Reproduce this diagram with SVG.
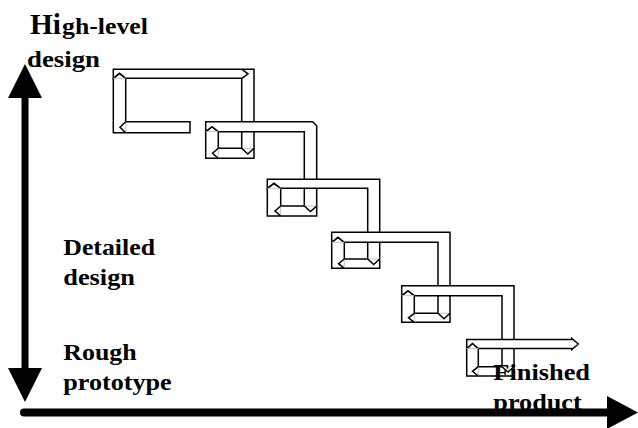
<svg xmlns="http://www.w3.org/2000/svg" width="638" height="428" viewBox="0 0 638 428">
  <style>
    .rib { fill: #fff; stroke: #000; stroke-width: 1.5; stroke-linejoin: miter; }
    .chev { fill: none; stroke: #000; stroke-width: 1.5; stroke-linejoin: miter; }
    .seam { fill: none; stroke: #c4c4c4; stroke-width: 1; }
    .lbl { font-family: "Liberation Serif", "Times New Roman", serif; font-weight: bold; font-size: 23.5px; fill: #000; }
    .axis { fill: #000; stroke: none; }
  </style>

  <rect x="0" y="0" width="638" height="428" fill="#fff"/>

  <!-- folded ribbon stepping down the page, one piece per step -->
  <g id="staircase">
    <g id="step1">
      <polygon class="rib" points="190,121.7 190,132.7 113.3,132.7 113.3,78.3 119.5,73.3 125.7,78.3 125.7,121.7"/>
    </g>
    <g id="step2">
      <polygon class="rib" points="113.3,69.3 254,69.3 254,158.3 205.7,158.3 205.7,131.7 212,126.7 218.3,131.7 218.3,148.3 241.7,148.3 241.7,78.3 125.7,78.3 119.5,73.3 113.3,78.3"/>
      <polyline class="chev" points="242,69.3 248,73.8 242,78.3"/>
    </g>
    <g id="step3">
      <polygon class="rib" points="205.7,121.7 312.7,121.7 316.7,125.7 316.7,216 267.3,216 267.3,188.3 274,183.3 280.7,188.3 280.7,206 304.3,206 304.3,131.7 218.3,131.7 212,126.7 205.7,131.7"/>
    </g>
    <g id="step4">
      <polygon class="rib" points="267.3,179.3 379.7,179.3 379.7,268.3 331.7,268.3 331.7,242.3 338,237.3 344.3,242.3 344.3,259 367.7,259 367.7,188.3 280.7,188.3 274,183.3 267.3,188.3"/>
    </g>
    <g id="step5">
      <polygon class="rib" points="331.7,232.3 450,232.3 450,322.3 401.7,322.3 401.7,295.7 408,290.7 414.3,295.7 414.3,313.3 438,313.3 438,242.3 344.3,242.3 338,237.3 331.7,242.3"/>
    </g>
    <g id="step6">
      <polygon class="rib" points="401.7,285.7 514,285.7 514,376 466.7,376 466.7,348.5 472.5,343.5 478.3,348.5 478.3,366.7 502,366.7 502,295.7 414.3,295.7 408,290.7 401.7,295.7"/>
    </g>
    <g id="step7">
      <polygon class="rib" points="466.7,339.5 571.7,339.5 571.7,338.3 578.3,344 571.7,349.7 571.7,348.5 478.3,348.5 472.5,343.5 466.7,348.5"/>
    </g>

    <!-- faint seams where ribbon pieces meet -->
    <g id="seams">
      <line class="seam" x1="113.3" y1="78.3" x2="125.7" y2="78.3"/>
      <line class="seam" x1="125.7" y1="121.7" x2="125.7" y2="132.7"/>
      <line class="seam" x1="205.7" y1="131.7" x2="218.3" y2="131.7"/>
      <line class="seam" x1="218.3" y1="148.3" x2="218.3" y2="158.3"/>
      <line class="seam" x1="241.7" y1="148.3" x2="254" y2="148.3"/>
      <line class="seam" x1="267.3" y1="188.3" x2="280.7" y2="188.3"/>
      <line class="seam" x1="280.7" y1="206" x2="280.7" y2="216"/>
      <line class="seam" x1="304.3" y1="206" x2="316.7" y2="206"/>
      <line class="seam" x1="331.7" y1="242.3" x2="344.3" y2="242.3"/>
      <line class="seam" x1="344.3" y1="259" x2="344.3" y2="268.3"/>
      <line class="seam" x1="367.7" y1="259" x2="379.7" y2="259"/>
      <line class="seam" x1="401.7" y1="295.7" x2="414.3" y2="295.7"/>
      <line class="seam" x1="414.3" y1="313.3" x2="414.3" y2="322.3"/>
      <line class="seam" x1="438" y1="313.3" x2="450" y2="313.3"/>
      <line class="seam" x1="466.7" y1="348.5" x2="478.3" y2="348.5"/>
      <line class="seam" x1="478.3" y1="366.7" x2="478.3" y2="376"/>
      <line class="seam" x1="502" y1="366.7" x2="514" y2="366.7"/>
    </g>

    <!-- corner chevrons -->
    <g id="chevrons">
      <polyline class="chev" points="125.7,121.7 120,127.2 125.7,132.7"/>
      <polyline class="chev" points="218.3,148.3 212.5,153.3 218.3,158.3"/>
      <polyline class="chev" points="241.7,148.3 247.8,154 254,148.3"/>
      <polyline class="chev" points="280.7,206 275,211 280.7,216"/>
      <polyline class="chev" points="304.3,206 310.5,211.5 316.7,206"/>
      <polyline class="chev" points="344.3,259 338.5,263.7 344.3,268.3"/>
      <polyline class="chev" points="367.7,259 373.7,264.5 379.7,259"/>
      <polyline class="chev" points="414.3,313.3 408.5,317.8 414.3,322.3"/>
      <polyline class="chev" points="438,313.3 444,318.8 450,313.3"/>
      <polyline class="chev" points="478.3,366.7 472.5,371.3 478.3,376"/>
      <polyline class="chev" points="502,366.7 508,372 514,366.7"/>
    </g>
  </g>

  <!-- labels -->
  <g id="label-high-level">
    <text class="lbl" x="30" y="34.3" style="font-size:29px" textLength="31" lengthAdjust="spacingAndGlyphs">Hi</text>
    <text class="lbl" x="62" y="34.3" textLength="86" lengthAdjust="spacingAndGlyphs">gh-level</text>
    <text class="lbl" x="27" y="67" textLength="73" lengthAdjust="spacingAndGlyphs">design</text>
  </g>
  <g id="label-detailed">
    <text class="lbl" x="63.3" y="255" textLength="91.7" lengthAdjust="spacingAndGlyphs">Detailed</text>
    <text class="lbl" x="63.3" y="285" textLength="71.7" lengthAdjust="spacingAndGlyphs">design</text>
  </g>
  <g id="label-rough">
    <text class="lbl" x="63.3" y="360" textLength="73.4" lengthAdjust="spacingAndGlyphs">Rough</text>
    <text class="lbl" x="63.3" y="390" textLength="108.4" lengthAdjust="spacingAndGlyphs">prototype</text>
  </g>
  <g id="label-finished">
    <text class="lbl" x="493.3" y="380" textLength="96.7" lengthAdjust="spacingAndGlyphs">Finished</text>
    <text class="lbl" x="493.3" y="410" textLength="88.4" lengthAdjust="spacingAndGlyphs">product</text>
  </g>

  <!-- axes -->
  <g id="connectors">
    <g id="axis-vertical">
      <rect class="axis" x="21.5" y="96" width="7" height="274"/>
      <polygon class="axis" points="25,64 42,98 8,98"/>
      <polygon class="axis" points="25,402 42,368 8,368"/>
    </g>
    <g id="axis-horizontal">
      <line x1="24" y1="412.5" x2="610" y2="412.5" stroke="#000" stroke-width="8" stroke-linecap="round"/>
      <polygon class="axis" points="607,396 638,412.5 607,429"/>
    </g>
  </g>
</svg>
